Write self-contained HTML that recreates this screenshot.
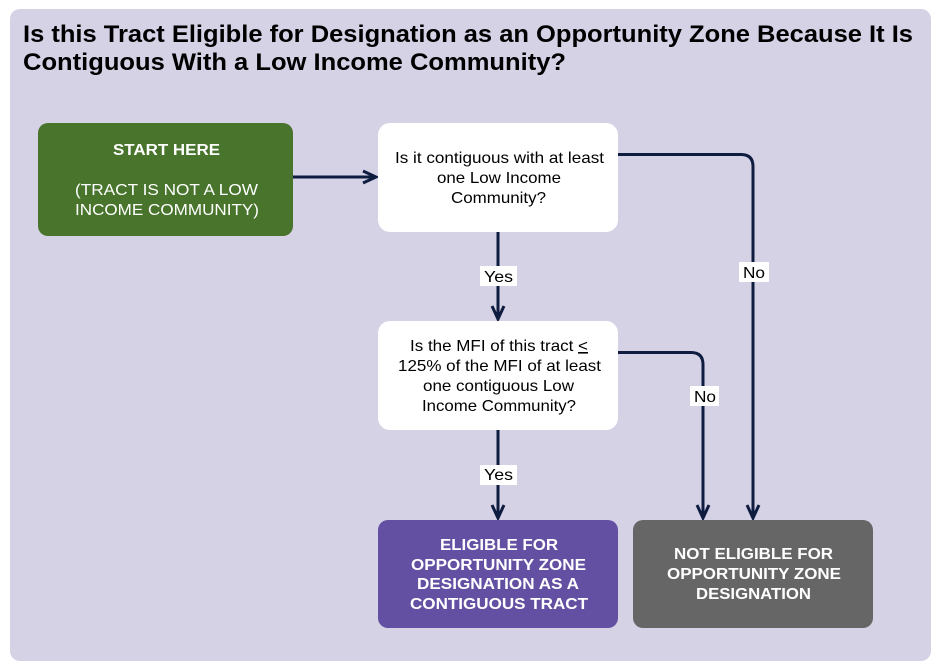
<!DOCTYPE html>
<html>
<head>
<meta charset="utf-8">
<style>
html,body{margin:0;padding:0;background:#fff;width:938px;height:668px;overflow:hidden}
svg{display:block}
text{font-family:"Liberation Sans",sans-serif}
.t{font-size:24px;font-weight:bold;fill:#000}
.b{font-size:16px;fill:#000}
.w{font-size:16px;fill:#fff}
.wb{font-size:16px;font-weight:bold;fill:#fff}
.l{fill:none;stroke:#0e1c40;stroke-width:3}
.a{fill:none;stroke:#0e1c40;stroke-width:3}
</style>
</head>
<body>
<svg width="938" height="668" viewBox="0 0 938 668" xmlns="http://www.w3.org/2000/svg">
<rect x="10" y="9" width="921" height="652" rx="10" fill="#d6d2e6"/>
<text class="t" x="23" y="42" textLength="890" lengthAdjust="spacingAndGlyphs">Is this Tract Eligible for Designation as an Opportunity Zone Because It Is</text>
<text class="t" x="23" y="70" textLength="543" lengthAdjust="spacingAndGlyphs">Contiguous With a Low Income Community?</text>

<path class="l" d="M293 177H376"/>
<path class="a" d="M363 171L376 177L363 183"/>
<path class="l" d="M618 154.500H741Q753 154.500 753 166.500V518"/>
<path class="a" d="M747 505L753 518L759 505"/>
<path class="l" d="M618 352.500H691Q703 352.500 703 364.500V518"/>
<path class="a" d="M697 505L703 518L709 505"/>
<path class="l" d="M498 232V319"/>
<path class="a" d="M492 306L498 319L504 306"/>
<path class="l" d="M498 430V518"/>
<path class="a" d="M492 505L498 518L504 505"/>

<rect x="38" y="123" width="255" height="113" rx="10" fill="#48742c"/>
<rect x="378" y="123" width="240" height="109" rx="12" fill="#fff"/>
<rect x="378" y="321" width="240" height="109" rx="12" fill="#fff"/>
<rect x="378" y="520" width="240" height="108" rx="10" fill="#6350a2"/>
<rect x="633" y="520" width="240" height="108" rx="10" fill="#666666"/>

<text class="wb" x="113" y="155" textLength="107" lengthAdjust="spacingAndGlyphs">START HERE</text>
<text class="w" x="75" y="195" textLength="183" lengthAdjust="spacingAndGlyphs">(TRACT IS NOT A LOW</text>
<text class="w" x="75" y="215" textLength="184" lengthAdjust="spacingAndGlyphs">INCOME COMMUNITY)</text>

<text class="b" x="395" y="163" textLength="209" lengthAdjust="spacingAndGlyphs">Is it contiguous with at least</text>
<text class="b" x="437" y="183" textLength="124" lengthAdjust="spacingAndGlyphs">one Low Income</text>
<text class="b" x="451" y="203" textLength="95" lengthAdjust="spacingAndGlyphs">Community?</text>

<text class="b" x="410" y="351" textLength="178" lengthAdjust="spacingAndGlyphs">Is the MFI of this tract <tspan text-decoration="underline">&lt;</tspan></text>
<text class="b" x="398" y="371" textLength="203" lengthAdjust="spacingAndGlyphs">125% of the MFI of at least</text>
<text class="b" x="423" y="391" textLength="151" lengthAdjust="spacingAndGlyphs">one contiguous Low</text>
<text class="b" x="422" y="411" textLength="154" lengthAdjust="spacingAndGlyphs">Income Community?</text>

<text class="wb" x="440" y="550" textLength="118" lengthAdjust="spacingAndGlyphs">ELIGIBLE FOR</text>
<text class="wb" x="411" y="570" textLength="175" lengthAdjust="spacingAndGlyphs">OPPORTUNITY ZONE</text>
<text class="wb" x="417" y="589" textLength="162" lengthAdjust="spacingAndGlyphs">DESIGNATION AS A</text>
<text class="wb" x="410" y="609" textLength="178" lengthAdjust="spacingAndGlyphs">CONTIGUOUS TRACT</text>

<text class="wb" x="674" y="559" textLength="159" lengthAdjust="spacingAndGlyphs">NOT ELIGIBLE FOR</text>
<text class="wb" x="667" y="579" textLength="174" lengthAdjust="spacingAndGlyphs">OPPORTUNITY ZONE</text>
<text class="wb" x="696" y="599" textLength="115" lengthAdjust="spacingAndGlyphs">DESIGNATION</text>

<rect x="480" y="266" width="37" height="20" fill="#fff"/>
<text class="b" x="484" y="282" textLength="29" lengthAdjust="spacingAndGlyphs">Yes</text>
<rect x="480" y="465" width="37" height="20" fill="#fff"/>
<text class="b" x="484" y="480" textLength="29" lengthAdjust="spacingAndGlyphs">Yes</text>
<rect x="739" y="262" width="30" height="20" fill="#fff"/>
<text class="b" x="743" y="278" textLength="22" lengthAdjust="spacingAndGlyphs">No</text>
<rect x="690" y="386" width="29" height="20" fill="#fff"/>
<text class="b" x="694" y="402" textLength="22" lengthAdjust="spacingAndGlyphs">No</text>
</svg>
</body>
</html>
